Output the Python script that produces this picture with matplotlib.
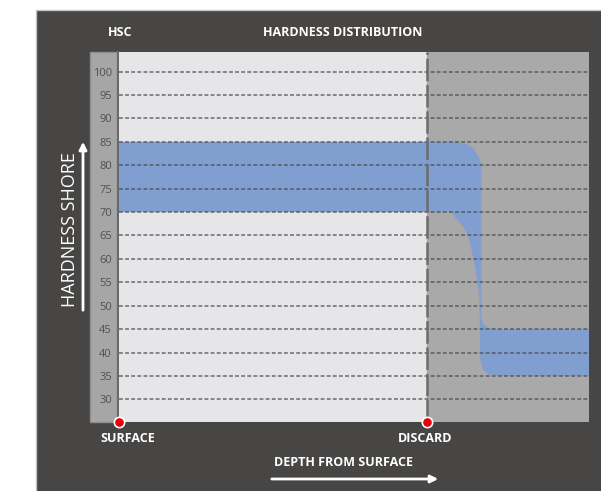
import matplotlib.pyplot as plt
from matplotlib.patches import Rectangle
from matplotlib.transforms import blended_transform_factory

plt.rcParams['font.family'] = ['Open Sans', 'DejaVu Sans']

## hardness scale shown on the left strip
hardness_ticks = [30, 35, 40, 45, 50, 55, 60, 65, 70, 75, 80, 85, 90, 95, 100]

## depth positions (arbitrary units, surface = 0)
surface_depth = 0.0
discard_depth = 10.0
max_depth = 15.25

## outline of the hardness band: upper/right edge going out, lower/left edge coming back
band_depth_top = [0.0, 10.9, 11.25, 11.5, 11.66, 11.76, 11.76, 11.84, 12.0, 12.3, 15.25]
band_hard_top = [85, 85, 84.6, 83.6, 82.0, 80.0, 47.0, 45.9, 45.2, 45.0, 45.0]
band_depth_bot = [15.25, 12.3, 12.0, 11.82, 11.72, 11.70, 11.66, 11.6, 11.5, 11.36, 11.18, 10.97, 10.78, 0.0]
band_hard_bot = [35, 35, 35.3, 36.3, 38.3, 51.0, 53.5, 56.5, 60.0, 64.5, 66.8, 68.4, 70, 70]

panel_col = '#474645'
light_col = '#e6e6e8'
grey_col = '#a9a9a9'
band_col = '#809ecf'
W, H = 601, 491


def main():
    fig = plt.figure(figsize=(W / 100, H / 100), dpi=100)
    fig.patch.set_facecolor('white')

    ## background axes in pixel units for the frame and labels
    bg = fig.add_axes([0, 0, 1, 1])
    bg.set_xlim(0, W)
    bg.set_ylim(H, 0)
    bg.axis('off')
    bg.add_patch(Rectangle((36, 10), 600, 500, facecolor=panel_col, edgecolor='#c4c4c4', lw=1))
    bg.add_patch(Rectangle((90, 52), 27, 370, facecolor='#a6a6a6', edgecolor='#8e8e8e', lw=1))
    bg.plot([117.5, 117.5], [52, 422], color='#6a6a6a', lw=1.5)

    txt = dict(color='white', fontsize=9, fontweight='bold', va='center')
    bg.text(120, 32, 'HSC', ha='center', **txt)
    bg.text(343, 32, 'HARDNESS DISTRIBUTION', ha='center', **txt)
    bg.text(128, 439, 'SURFACE', ha='center', **txt)
    bg.text(425, 439, 'DISCARD', ha='center', **txt)
    bg.text(343, 462, 'DEPTH FROM SURFACE', ha='center', **txt)
    bg.text(70, 230, 'HARDNESS SHORE', ha='center', va='center', rotation=90,
            color='white', fontsize=13)
    bg.annotate('', xy=(83, 139), xytext=(83, 313),
                arrowprops=dict(arrowstyle='-|>', color='white', lw=2, mutation_scale=11))
    bg.annotate('', xy=(441, 479), xytext=(269, 479),
                arrowprops=dict(arrowstyle='-|>', color='white', lw=2, mutation_scale=11))

    ## main plot area
    ax = fig.add_axes([119 / W, (H - 421.5) / H, (589 - 119) / W, (421.5 - 52) / H])
    ax.set_facecolor(light_col)
    ax.set_xlim(surface_depth, max_depth)
    ax.set_ylim(25.26, 104.2)
    for s in ax.spines.values():
        s.set_visible(False)

    ax.axvspan(discard_depth, max_depth, color=grey_col, zorder=0)
    ax.fill(band_depth_top + band_depth_bot, band_hard_top + band_hard_bot,
            color=band_col, lw=0, zorder=2)
    ax.hlines(hardness_ticks, surface_depth, max_depth, colors='#4a4a4a', lw=1.1,
              linestyles=(0, (2.5, 1.5)), alpha=0.8, zorder=3)
    ax.axvline(discard_depth, color='#6c6c6c', lw=1.8, ls=(0, (9, 1.5)), zorder=4)

    ax.set_yticks(hardness_ticks)
    ax.set_yticklabels([str(t) for t in hardness_ticks], fontsize=8, color='#505050')
    ax.tick_params(axis='y', length=0, pad=5)
    ax.set_xticks([])

    ## red markers at surface and discard
    tr = blended_transform_factory(ax.transData, ax.transAxes)
    ax.scatter([surface_depth, discard_depth], [0, 0], s=55, color='#e8000b',
               edgecolors='white', linewidths=1.2, transform=tr, clip_on=False, zorder=10)

    fig.savefig('out.png', dpi=100, facecolor='white')


if __name__ == "__main__":
    main()
